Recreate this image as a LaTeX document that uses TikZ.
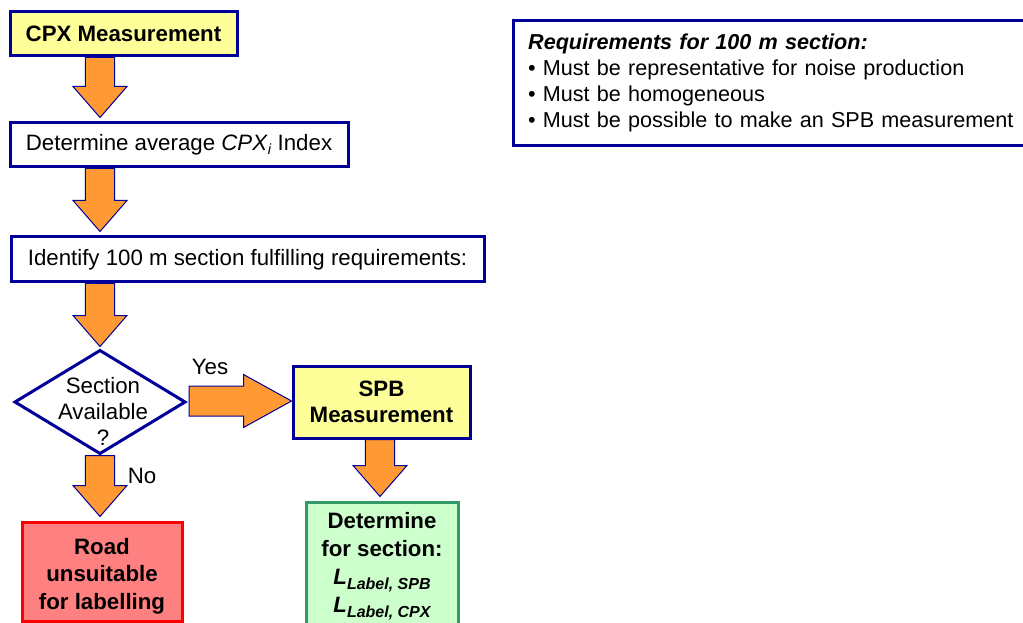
\documentclass[tikz,border=0pt]{standalone}
\usepackage{fontspec}
\setmainfont{Liberation Sans}
\usetikzlibrary{calc}
\pgfdeclarelayer{bg}
\pgfsetlayers{bg,main}
\definecolor{navy}{HTML}{000099}
\definecolor{arrfill}{HTML}{FF9933}
\definecolor{boxyellow}{HTML}{FFFF99}
\definecolor{roadfill}{HTML}{FF8080}
\definecolor{roadline}{HTML}{FF0000}
\definecolor{detfill}{HTML}{CCFFCC}
\definecolor{detline}{HTML}{339966}
\newcommand\blkdown[2]{\draw[blk] let \p1=(#1), \p2=(#2) in
  (\x1-10.9pt,\y1) -- (\x1+10.9pt,\y1) -- (\x1+10.9pt,\y2+23.25pt) -- (\x1+20.25pt,\y2+23.25pt)
  -- (\x1,\y2) -- (\x1-20.25pt,\y2+23.25pt) -- (\x1-10.9pt,\y2+23.25pt) -- cycle;}
\newcommand\blkright[2]{\draw[blk] let \p1=(#1), \p2=(#2) in
  (\x1,\y1+11.25pt) -- (\x2-36pt,\y1+11.25pt) -- (\x2-36pt,\y1+19.9pt) -- (\x2,\y1)
  -- (\x2-36pt,\y1-19.9pt) -- (\x2-36pt,\y1-11.25pt) -- (\x1,\y1-11.25pt) -- cycle;}
\begin{document}
\begin{tikzpicture}[x=0.75pt,y=-0.75pt,
  txt/.style={font=\fontsize{16.7}{19.5}\selectfont},
  box/.style={draw=navy, line width=2.25pt, fill=white, inner sep=0pt, align=center, txt},
  ybox/.style={box, fill=boxyellow, font=\fontsize{16.7}{19.5}\selectfont\bfseries},
  blk/.style={fill=arrfill, draw=navy, line width=0.75pt, line join=miter}]
\useasboundingbox (0,0) rectangle (1023,623);
\clip (0,0) rectangle (1023,623);

\node[ybox, minimum width=170.25pt, minimum height=33pt] (cpx) at (123.5,34) {CPX Measurement};
\node[box, minimum width=253.5pt, minimum height=33pt] (avg) at (179,145)
  {Determine average \textit{CPX}\raisebox{-0.35ex}{\fontsize{11}{11}\selectfont\textit{i}} Index};
\node[box, minimum width=354.75pt, minimum height=33.75pt] (ident) at (247.5,259.5)
  {Identify 100 m section fulfilling requirements:};
\node[minimum width=127.5pt, minimum height=77.25pt, inner sep=0pt, outer sep=0pt] (dia) at (100,402) {};
\draw[navy, line width=2.25pt, fill=white, line join=miter] (dia.north) -- (dia.east) -- (dia.south) -- (dia.west) -- cycle;
\node[txt, align=center] (diatext) at (103,411) {Section\\Available\\?};
\node[ybox, minimum width=132.75pt, minimum height=54pt] (spb) at (381.5,402) {SPB\\Measurement};
\node[box, draw=roadline, fill=roadfill, minimum width=120pt, minimum height=74.25pt] (road) at (102,571.5) {};
\node[align=center, inner sep=0pt, font=\fontsize{16.7}{20.6}\selectfont\bfseries] (roadtext) at (102,576)
  {Road\\unsuitable\\for labelling};
\node[box, draw=detline, fill=detfill, minimum width=114pt, minimum height=96pt,
  font=\fontsize{16.7}{21}\selectfont\bfseries] (det) at (382,566)
  {Determine\\for section:\\\textit{L}\raisebox{-0.45ex}{\fontsize{12}{12}\selectfont\itshape Label, SPB}\\
   \textit{L}\raisebox{-0.45ex}{\fontsize{12}{12}\selectfont\itshape Label, CPX}};
\node[box, anchor=north west, text width=420pt, inner xsep=11pt, minimum height=93.75pt,
  align=left, font=\fontsize{16.2}{19.5}\selectfont] (req) at (512,19)
  {\textbf{\textit{Requirements for 100 m section:}}\\
   • Must be representative for noise production\\
   • Must be homogeneous\\
   • Must be possible to make an SPB measurement};

\node[txt] (yes) at (210,367) {Yes};
\node[txt] (no) at (142,476) {No};

\begin{pgfonlayer}{bg}
\blkdown{cpx.south -| dia.center}{$(avg.north -| dia.center)+(0,-4)$}
\blkdown{avg.south -| dia.center}{$(ident.north -| dia.center)+(0,-4)$}
\blkdown{ident.south -| dia.center}{$(dia.north)+(0,-4)$}
\blkdown{$(dia.south)+(0,2)$}{$(road.north -| dia.center)+(0,-4)$}
\blkdown{$(spb.south)+(-1.5,0)$}{$(det.north)+(-2,-4)$}
\end{pgfonlayer}
\blkright{$(dia.east)+(4,-1)$}{$(spb.west)+(0,-1)$}
\end{tikzpicture}
\end{document}
